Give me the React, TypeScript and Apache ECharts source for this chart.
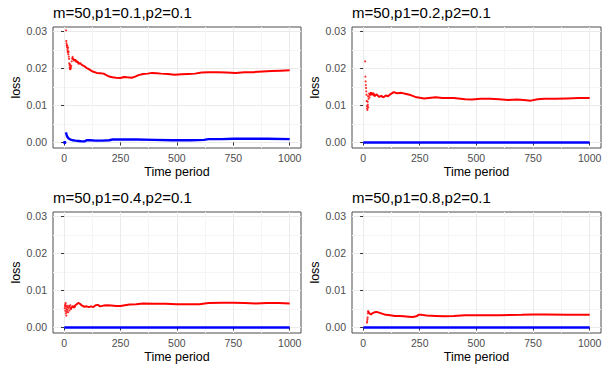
import React, { useEffect, useRef } from "react";
import * as echarts from "echarts";

const panelTitles = [
  "m=50,p1=0.1,p2=0.1",
  "m=50,p1=0.2,p2=0.1",
  "m=50,p1=0.4,p2=0.1",
  "m=50,p1=0.8,p2=0.1",
];
const xTicks = [0, 250, 500, 750, 1000];
const xMinor = [125, 375, 625, 875];
const yTicks = [0, 0.01, 0.02, 0.03];
const yMinor = [0.005, 0.015, 0.025];

// Panel 1: p1=0.1
const p1RedDots = [
  [9, 0.0303], [10, 0.0274], [11, 0.0268], [12, 0.0263], [13, 0.0258], [14, 0.0262],
  [15, 0.0252], [16, 0.0247], [17, 0.0243], [18, 0.0256], [19, 0.0238], [20, 0.0245],
  [21, 0.0232], [22, 0.0226], [23, 0.0214], [24, 0.0209], [25, 0.0203], [26, 0.0199],
  [27, 0.0211], [28, 0.0198], [29, 0.0205], [30, 0.0201], [32, 0.0207], [34, 0.0219],
  [36, 0.0227], [38, 0.0231], [40, 0.0226],
];
const p1RedLine = [
  [40, 0.0226], [45, 0.0221], [50, 0.0224], [55, 0.0217], [60, 0.0219], [65, 0.0212],
  [70, 0.0215], [80, 0.0209], [90, 0.0206], [100, 0.0201], [110, 0.0198], [120, 0.0194],
  [130, 0.0191], [145, 0.0188], [160, 0.0187], [175, 0.0186], [190, 0.0181], [200, 0.0178],
  [215, 0.0176], [230, 0.0175], [250, 0.0174], [265, 0.0177], [280, 0.0176], [300, 0.0175],
  [315, 0.0178], [330, 0.0182], [350, 0.0185], [370, 0.0186], [390, 0.0188], [410, 0.0187],
  [430, 0.0186], [460, 0.0185], [490, 0.0183], [520, 0.0184], [550, 0.0185], [580, 0.0186],
  [610, 0.0189], [640, 0.019], [680, 0.019], [720, 0.0189], [760, 0.0188], [800, 0.019],
  [840, 0.019], [880, 0.0192], [920, 0.0193], [960, 0.0194], [1000, 0.0195],
];
const p1BlueDots = [[1, 0], [2, 0], [3, 0], [4, 0], [5, 0]];
const p1BlueLine = [
  [8, 0.0027], [9, 0.0025], [11, 0.0021], [13, 0.0017], [16, 0.0014], [20, 0.0011],
  [25, 0.0009], [32, 0.0007], [40, 0.0006], [50, 0.0005], [65, 0.0004], [80, 0.0003],
  [92, 0.0003], [100, 0.0006], [115, 0.0006], [140, 0.0005], [170, 0.0005], [200, 0.0006],
  [215, 0.0008], [260, 0.0008], [320, 0.0008], [400, 0.0007], [480, 0.0006], [560, 0.0006],
  [620, 0.0007], [640, 0.0009], [700, 0.0009], [750, 0.001], [820, 0.001], [900, 0.001],
  [1000, 0.0009],
];

// Panel 2: p1=0.2
const p2RedDots = [
  [9, 0.0219], [10, 0.0178], [11, 0.0165], [12, 0.0155], [13, 0.0147], [14, 0.0138],
  [15, 0.0129], [16, 0.0112], [17, 0.0098], [18, 0.0092], [19, 0.0088], [20, 0.011],
  [21, 0.0102], [22, 0.0125], [23, 0.0095], [24, 0.0118], [26, 0.0132], [28, 0.0122],
  [30, 0.0128],
];
const p2RedLine = [
  [30, 0.0128], [35, 0.0135], [40, 0.0128], [45, 0.0134], [50, 0.0125], [60, 0.013],
  [70, 0.0123], [80, 0.0126], [90, 0.0122], [100, 0.0127], [110, 0.0125], [120, 0.013],
  [135, 0.0136], [150, 0.0133], [170, 0.0134], [190, 0.0131], [210, 0.0128], [230, 0.0123],
  [250, 0.0121], [270, 0.0119], [300, 0.0121], [320, 0.0122], [350, 0.012], [400, 0.012],
  [450, 0.0117], [480, 0.0116], [520, 0.0118], [560, 0.0118], [600, 0.0117], [640, 0.0115],
  [680, 0.0116], [720, 0.0114], [740, 0.0113], [770, 0.0117], [800, 0.0118], [850, 0.0118],
  [900, 0.0119], [950, 0.012], [1000, 0.012],
];
const p2BlueLine = [[1, 0], [1000, 0]];

// Panel 3: p1=0.4
const p3RedDots = [
  [3, 0.0052], [4, 0.0058], [5, 0.0062], [6, 0.0045], [7, 0.0066], [8, 0.0038],
  [9, 0.0056], [10, 0.0032], [11, 0.005], [12, 0.0042], [13, 0.0059], [14, 0.0047],
  [16, 0.0055], [18, 0.0041], [20, 0.0052], [22, 0.0058], [24, 0.0046], [26, 0.0055],
  [28, 0.006], [30, 0.005],
];
const p3RedLine = [
  [30, 0.005], [35, 0.0055], [40, 0.0058], [45, 0.0053], [50, 0.006], [55, 0.0062],
  [60, 0.0065], [65, 0.0066], [70, 0.0064], [80, 0.0059], [90, 0.0056], [100, 0.0057],
  [110, 0.0055], [120, 0.0057], [130, 0.0055], [140, 0.006], [150, 0.0061], [160, 0.0057],
  [175, 0.0059], [190, 0.006], [210, 0.0059], [230, 0.0058], [250, 0.0058], [270, 0.006],
  [290, 0.0062], [320, 0.0063], [350, 0.0065], [400, 0.0064], [450, 0.0064], [500, 0.0063],
  [550, 0.0063], [600, 0.0063], [640, 0.0066], [700, 0.0067], [750, 0.0067], [800, 0.0066],
  [850, 0.0065], [900, 0.0066], [950, 0.0066], [1000, 0.0065],
];
const p3BlueLine = [[1, 0], [1000, 0]];

// Panel 4: p1=0.8
const p4RedDots = [
  [17, 0.0013], [18, 0.0017], [19, 0.0022], [20, 0.0027], [21, 0.0038], [22, 0.0044],
];
const p4RedLine = [
  [22, 0.0044], [25, 0.004], [30, 0.0037], [35, 0.0035], [40, 0.0038], [50, 0.0041],
  [60, 0.0042], [70, 0.004], [80, 0.0038], [90, 0.0036], [100, 0.0034], [120, 0.0033],
  [140, 0.0031], [160, 0.0031], [180, 0.003], [200, 0.0029], [220, 0.0028], [235, 0.003],
  [245, 0.0034], [260, 0.0034], [280, 0.0032], [320, 0.0031], [360, 0.003], [400, 0.0031],
  [450, 0.0033], [500, 0.0033], [600, 0.0033], [700, 0.0034], [750, 0.0035], [800, 0.0035],
  [900, 0.0034], [1000, 0.0034],
];
const p4BlueLine = [[1, 0], [1000, 0]];

const panels = [
  { title: panelTitles[0], redDots: p1RedDots, redLine: p1RedLine, blueDots: p1BlueDots, blueLine: p1BlueLine },
  { title: panelTitles[1], redDots: p2RedDots, redLine: p2RedLine, blueDots: [], blueLine: p2BlueLine },
  { title: panelTitles[2], redDots: p3RedDots, redLine: p3RedLine, blueDots: [], blueLine: p3BlueLine },
  { title: panelTitles[3], redDots: p4RedDots, redLine: p4RedLine, blueDots: [], blueLine: p4BlueLine },
];

const FONT = "'Liberation Sans', Arial, Helvetica, sans-serif";
const RED = "#ff0000";
const BLUE = "#0000ff";

export default function App() {
  const ref = useRef<HTMLDivElement>(null);

  useEffect(() => {
    if (!ref.current) return;
    const chart = echarts.init(ref.current, undefined, { renderer: "svg" });

    const gridPos = [
      { left: 53, top: 27, width: 248, height: 121 },
      { left: 352, top: 27, width: 249, height: 121 },
      { left: 53, top: 212, width: 248, height: 121 },
      { left: 352, top: 212, width: 249, height: 121 },
    ];
    const titleY = [12, 12, 197.5, 197.5];

    const grids: any[] = [];
    const xAxes: any[] = [];
    const yAxes: any[] = [];
    const series: any[] = [];
    const graphics: any[] = [];

    panels.forEach((p, i) => {
      const g = gridPos[i];
      grids.push({
        ...g,
        show: true,
        borderColor: "#4d4d4d",
        borderWidth: 1,
        backgroundColor: "#ffffff",
        containLabel: false,
      });
      graphics.push({
        type: "text",
        x: g.left,
        y: titleY[i],
        style: {
          text: p.title,
          fontSize: 15,
          fontFamily: FONT,
          fill: "#000000",
          verticalAlign: "middle",
          align: "left",
        },
      });
      xAxes.push({
        type: "value",
        gridIndex: i,
        min: -49,
        max: 1050,
        position: "bottom",
        axisLine: { show: false },
        axisTick: { show: true, length: 3, customValues: xTicks, lineStyle: { color: "#333333", width: 1 } },
        axisLabel: {
          customValues: xTicks,
          margin: 4,
          color: "#4d4d4d",
          fontSize: 10.5,
          fontFamily: FONT,
          formatter: (v: number) => String(v),
        },
        splitLine: { show: true, lineStyle: { color: "#ebebeb", width: 1 } },
        name: "Time period",
        nameLocation: "middle",
        nameGap: 17,
        nameTextStyle: { fontSize: 12.5, color: "#000000", fontFamily: FONT },
      });
      xAxes.push({
        type: "value",
        gridIndex: i,
        min: -49,
        max: 1050,
        position: "top",
        axisLine: { show: false },
        axisTick: { show: false, customValues: xMinor },
        axisLabel: { show: false },
        splitLine: { show: true, lineStyle: { color: "#f5f5f5", width: 1 } },
      });
      yAxes.push({
        type: "value",
        gridIndex: i,
        min: -0.0015,
        max: 0.0312,
        position: "left",
        axisLine: { show: false },
        axisTick: { show: true, length: 3, customValues: yTicks, lineStyle: { color: "#333333", width: 1 } },
        axisLabel: {
          customValues: yTicks,
          margin: 6,
          color: "#4d4d4d",
          fontSize: 10.5,
          fontFamily: FONT,
          formatter: (v: number) => v.toFixed(2),
        },
        splitLine: { show: true, lineStyle: { color: "#ebebeb", width: 1 } },
        name: "loss",
        nameLocation: "middle",
        nameGap: 25,
        nameTextStyle: { fontSize: 12.5, color: "#000000", fontFamily: FONT },
      });
      yAxes.push({
        type: "value",
        gridIndex: i,
        min: -0.0015,
        max: 0.0312,
        position: "right",
        axisLine: { show: false },
        axisTick: { show: false, customValues: yMinor },
        axisLabel: { show: false },
        splitLine: { show: true, lineStyle: { color: "#f5f5f5", width: 1 } },
      });

      const xi = i * 2;
      const yi = i * 2;
      series.push({
        type: "line",
        xAxisIndex: xi,
        yAxisIndex: yi,
        data: p.blueLine,
        showSymbol: false,
        lineStyle: { color: BLUE, width: 2.4 },
        silent: true,
        z: 3,
      });
      if (p.blueDots.length) {
        series.push({
          type: "scatter",
          xAxisIndex: xi,
          yAxisIndex: yi,
          data: p.blueDots,
          symbolSize: 2.5,
          itemStyle: { color: BLUE },
          silent: true,
          z: 3,
        });
      }
      series.push({
        type: "line",
        xAxisIndex: xi,
        yAxisIndex: yi,
        data: p.redLine,
        showSymbol: false,
        lineStyle: { color: RED, width: 2 },
        silent: true,
        z: 4,
      });
      series.push({
        type: "scatter",
        xAxisIndex: xi,
        yAxisIndex: yi,
        data: p.redDots,
        symbolSize: 2.2,
        itemStyle: { color: RED },
        silent: true,
        z: 4,
      });
    });

    chart.setOption({
      animation: false,
      backgroundColor: "#ffffff",
      textStyle: { fontFamily: FONT },
      grid: grids,
      xAxis: xAxes,
      yAxis: yAxes,
      series,
      graphic: graphics,
    });

    return () => {
      chart.dispose();
    };
  }, []);

  return (
    <div
      ref={ref}
      style={{ position: "fixed", left: 0, top: 0, width: 608, height: 371, background: "#fff" }}
    />
  );
}
